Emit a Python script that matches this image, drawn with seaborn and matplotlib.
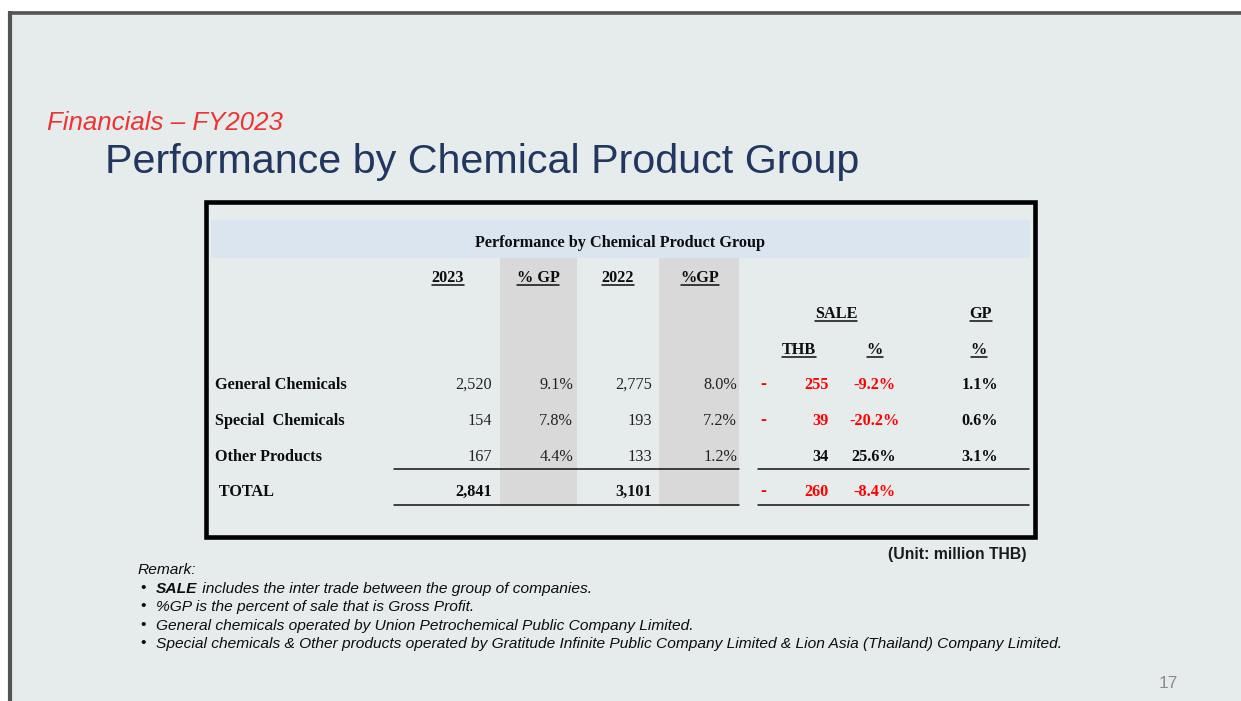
import matplotlib
matplotlib.use("Agg")
import matplotlib.pyplot as plt
from matplotlib.patches import Rectangle
import seaborn as sns

# ---------------- data ----------------
groups = ["General Chemicals", "Special  Chemicals", "Other Products"]
total_label = " TOTAL"
sales_2023 = [2520, 154, 167]
gp_2023 = [9.1, 7.8, 4.4]
sales_2022 = [2775, 193, 133]
gp_2022 = [8.0, 7.2, 1.2]
sale_chg_thb = [-255, -39, 34]
sale_chg_pct = [-9.2, -20.2, 25.6]
gp_chg_pct = [1.1, 0.6, 3.1]
total_2023 = 2841
total_2022 = 3101
total_chg_thb = -260
total_chg_pct = -8.4

kicker = "Financials \u2013 FY2023"
title = "Performance by Chemical Product Group"
table_title = "Performance by Chemical Product Group"
col_headers = ["2023", "% GP", "2022", "%GP"]
unit_note = "(Unit: million THB)"
remark_head = "Remark:"
remarks = [
    ("SALE", " includes the inter trade between the group of companies."),
    ("", "%GP is the percent of sale that is Gross Profit."),
    ("", "General chemicals operated by Union Petrochemical Public Company Limited."),
    ("", "Special chemicals & Other products operated by Gratitude Infinite Public Company Limited & Lion Asia (Thailand) Company Limited."),
]
page_no = "17"

# ---------------- style ----------------
sns.set_theme(style="white")
plt.rcParams["font.family"] = ["Liberation Sans", "DejaVu Sans"]

W, H = 1241, 701
fig = plt.figure(figsize=(W / 100, H / 100), dpi=100, facecolor="white")
ax = fig.add_axes([0, 0, 1, 1])
ax.set_xlim(0, W)
ax.set_ylim(H, 0)
ax.axis("off")

BG = "#E6ECEC"
RED = "#FF0000"
SERIF = ["Liberation Serif", "DejaVu Serif"]
TS = 11.7  # table font size

# slide background and frame
ax.add_patch(Rectangle((8, 11), W - 8, H - 11, facecolor=BG, edgecolor="none", zorder=0))
ax.plot([8, W], [13, 13], color="#545454", lw=2.6, solid_capstyle="butt", zorder=1)
ax.plot([10, 10], [11, H], color="#545454", lw=3.0, solid_capstyle="butt", zorder=1)

# titles
ax.text(47, 130, kicker, color="#EE3333", fontsize=18.6, style="italic", va="baseline", ha="left")
ax.text(105, 173, title, color="#22375F", fontsize=29.7, va="baseline", ha="left")

# table frame
ax.add_patch(Rectangle((205.5, 201.5), 829, 335, facecolor="none", edgecolor="black", lw=3.3, zorder=5))
ax.add_patch(Rectangle((211, 220), 819, 38, facecolor="#DBE5EF", edgecolor="none", zorder=1))
for x0, x1 in [(500, 577), (659, 739)]:
    ax.add_patch(Rectangle((x0, 258), x1 - x0, 248, facecolor="#D9D9D9", edgecolor="none", zorder=1))

ax.text(620, 247, table_title, fontsize=TS, fontweight="bold", family=SERIF, color="#0d0d0d",
        ha="center", va="baseline", zorder=3)

fig.canvas.draw()
renderer = fig.canvas.get_renderer()
inv = ax.transData.inverted()


def underlined(x, y, s, ha="center"):
    t = ax.text(x, y, s, fontsize=TS, fontweight="bold", family=SERIF, color="#0d0d0d",
                ha=ha, va="baseline", zorder=3)
    bb = t.get_window_extent(renderer=renderer)
    (xa, _), (xb, _) = inv.transform([(bb.x0, 0), (bb.x1, 0)])
    ax.plot([xa, xb], [y + 2.5, y + 2.5], color="#0d0d0d", lw=1.1, zorder=3)


for x, s in zip([448, 538, 618, 700], col_headers):
    underlined(x, 282, s)
underlined(836, 318, "SALE")
underlined(981, 318, "GP")
underlined(799, 354, "THB")
underlined(875, 354, "%")
underlined(979, 354, "%")

row_y = [389, 425, 461]
for i, g in enumerate(groups):
    y = row_y[i]
    ax.text(215, y, g, fontsize=TS, fontweight="bold", family=SERIF, color="#0d0d0d", va="baseline", ha="left")
    ax.text(492, y, f"{sales_2023[i]:,}", fontsize=TS, family=SERIF, color="#222222", va="baseline", ha="right")
    ax.text(573, y, f"{gp_2023[i]:.1f}%", fontsize=TS, family=SERIF, color="#222222", va="baseline", ha="right")
    ax.text(652, y, f"{sales_2022[i]:,}", fontsize=TS, family=SERIF, color="#222222", va="baseline", ha="right")
    ax.text(737, y, f"{gp_2022[i]:.1f}%", fontsize=TS, family=SERIF, color="#222222", va="baseline", ha="right")
    c = RED if sale_chg_thb[i] < 0 else "#0d0d0d"
    if sale_chg_thb[i] < 0:
        ax.text(763, y, "-", fontsize=TS + 1, fontweight="bold", family=SERIF, color=RED, va="baseline", ha="center")
    ax.text(829, y, f"{abs(sale_chg_thb[i]):,}", fontsize=TS, fontweight="bold", family=SERIF, color=c,
            va="baseline", ha="right")
    c2 = RED if sale_chg_pct[i] < 0 else "#0d0d0d"
    ax.text(874, y, f"{sale_chg_pct[i]:.1f}%", fontsize=TS, fontweight="bold", family=SERIF, color=c2,
            va="baseline", ha="center")
    ax.text(998, y, f"{gp_chg_pct[i]:.1f}%", fontsize=TS, fontweight="bold", family=SERIF, color="#0d0d0d",
            va="baseline", ha="right")

yt = 496
ax.text(215, yt, total_label, fontsize=TS, fontweight="bold", family=SERIF, color="#0d0d0d", va="baseline", ha="left")
ax.text(492, yt, f"{total_2023:,}", fontsize=TS, fontweight="bold", family=SERIF, color="#0d0d0d", va="baseline", ha="right")
ax.text(652, yt, f"{total_2022:,}", fontsize=TS, fontweight="bold", family=SERIF, color="#0d0d0d", va="baseline", ha="right")
ax.text(763, yt, "-", fontsize=TS + 1, fontweight="bold", family=SERIF, color=RED, va="baseline", ha="center")
ax.text(829, yt, f"{abs(total_chg_thb):,}", fontsize=TS, fontweight="bold", family=SERIF, color=RED, va="baseline", ha="right")
ax.text(874, yt, f"{total_chg_pct:.1f}%", fontsize=TS, fontweight="bold", family=SERIF, color=RED, va="baseline", ha="center")

for y in (469, 504.5):
    ax.plot([394, 739], [y, y], color="#111111", lw=1.1, zorder=3)
    ax.plot([758, 1029], [y, y], color="#111111", lw=1.1, zorder=3)

# unit note
ax.text(1026, 559, unit_note, fontsize=11.3, fontweight="bold", color="#1a1a1a",
        ha="right", va="baseline")

# remarks
RS = 11.15
ax.text(138, 574, remark_head, fontsize=RS, style="italic", color="#0d0d0d", va="baseline", ha="left")
rem_y = [593, 611, 630, 648]
for (bold_part, rest), y in zip(remarks, rem_y):
    ax.text(140, y - 1, "\u2022", fontsize=RS, color="#0d0d0d", va="baseline", ha="left")
    x = 156
    if bold_part:
        t = ax.text(x, y, bold_part, fontsize=RS, style="italic", fontweight="bold", color="#0d0d0d",
                    va="baseline", ha="left")
        bb = t.get_window_extent(renderer=renderer)
        x = inv.transform([(bb.x1, 0)])[0][0]
    ax.text(x, y, rest, fontsize=RS, style="italic", color="#0d0d0d", va="baseline", ha="left")

ax.text(1168, 688, page_no, fontsize=12.5, color="#8C8C8C", ha="center", va="baseline")

fig.savefig("out.png", dpi=100, facecolor="white")
